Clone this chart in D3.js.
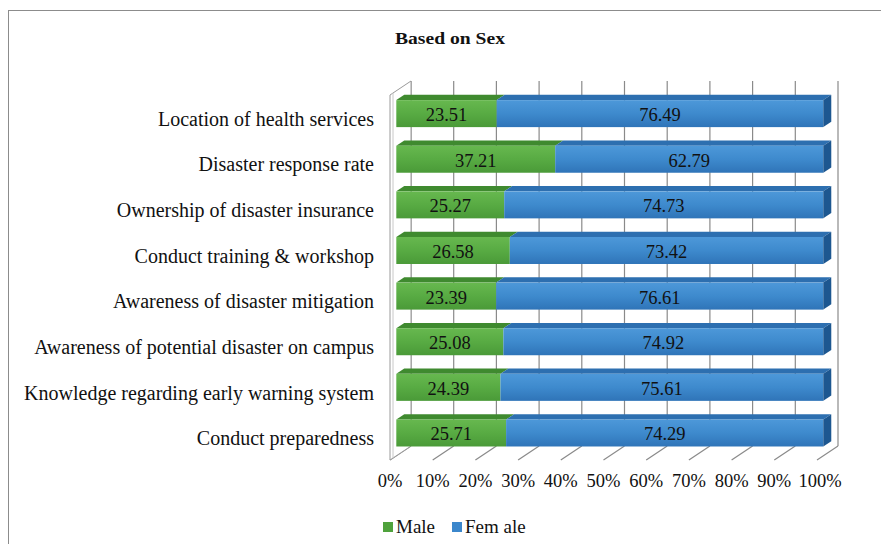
<!DOCTYPE html>
<head>
<meta charset="utf-8">
<style>
body { margin: 0; background: #fff; }
</style>
</head>
<body>
<svg width="881" height="544"></svg>
<script src="https://cdn.jsdelivr.net/npm/d3@7"></script>
<script>

var categories = ["Location of health services", "Disaster response rate", "Ownership of disaster insurance",
  "Conduct training & workshop", "Awareness of disaster mitigation", "Awareness of potential disaster on campus",
  "Knowledge regarding early warning system", "Conduct preparedness"];
var male = [23.51, 37.21, 25.27, 26.58, 23.39, 25.08, 24.39, 25.71];
var female = [76.49, 62.79, 74.73, 73.42, 76.61, 74.92, 75.61, 74.29];
var ticks = [0, 10, 20, 30, 40, 50, 60, 70, 80, 90, 100];
var seriesNames = ["Male", "Fem ale"];

var FONT = "'Liberation Serif', 'Times New Roman', Tinos, 'DejaVu Serif', serif";

var svg = d3.select("svg");

// outer border
svg.append("rect").attr("x", 8.5).attr("y", 10.5).attr("width", 900).attr("height", 600)
  .attr("fill", "#fff").attr("stroke", "#8c8c8c");

var x = d3.scaleLinear().domain([0, 100]).range([390, 817]);
var y = d3.scaleBand().domain(categories).range([95, 460]);
var DX = 21, DY = -14;          // full depth of the 3d box
var d0 = 0.3, d1 = 0.68;        // bar depth (front, back)
var barH = 27;

var defs = svg.append("defs");
function grad(id, stops) {
  var g = defs.append("linearGradient").attr("id", id).attr("x1", 0).attr("y1", 0).attr("x2", 0).attr("y2", 1);
  stops.forEach(function(s){ g.append("stop").attr("offset", s[0]).attr("stop-color", s[1]); });
}
grad("gFront", [[0, "#67b84f"], [0.5, "#58ab43"], [1, "#4a9a38"]]);
grad("bFront", [[0, "#4d98d9"], [0.5, "#3e8acd"], [1, "#2f74b8"]]);

// back wall gridlines
var back = svg.append("g");
back.selectAll("line.grid").data(ticks).enter().append("line")
  .attr("x1", function(d){ return x(d) + DX; }).attr("x2", function(d){ return x(d) + DX; })
  .attr("y1", y.range()[0] + DY).attr("y2", y.range()[1] + DY)
  .attr("stroke", "#8a8a8a").attr("stroke-width", 1.2);

// floor lines
back.selectAll("line.floor").data(ticks).enter().append("line")
  .attr("x1", function(d){ return x(d); }).attr("y1", y.range()[1])
  .attr("x2", function(d){ return x(d) + DX; }).attr("y2", y.range()[1] + DY)
  .attr("stroke", "#8a8a8a").attr("stroke-width", 1.2);

// left wall
var y0 = y.range()[0], y1 = y.range()[1];
back.append("path")
  .attr("d", "M" + x(0) + "," + y0 + "L" + (x(0) + DX) + "," + (y0 + DY) + "L" + (x(0) + DX) + "," + (y1 + DY) + "L" + x(0) + "," + y1 + "Z")
  .attr("fill", "#fff").attr("stroke", "#9a9a9a");
back.append("path")
  .attr("d", "M" + (x(0) + 3) + "," + (y0 - 2) + "L" + (x(0) + 3) + "," + (y1 - 2))
  .attr("stroke", "#c8c8c8");

// bars
var bars = svg.append("g");
categories.forEach(function(c, i) {
  var cy = y(c) + y.bandwidth() / 2;
  var fx = d0 * DX, fy = d0 * DY;
  var bx = d1 * DX, by = d1 * DY;
  var top = cy + fy - barH / 2, bot = top + barH;
  var segs = [[0, male[i], "url(#gFront)", "#3f8a2f", "#2f6a22"],
              [male[i], 100, "url(#bFront)", "#2d6fb0", "#1d5790"]];
  var g = bars.append("g");
  segs.forEach(function(s, k) {
    var xa = x(s[0]) + fx, xb = x(s[1]) + fx;
    // top face
    g.append("path")
      .attr("d", "M" + xa + "," + top + "L" + (xa + bx - fx) + "," + (top + by - fy) + "L" + (xb + bx - fx) + "," + (top + by - fy) + "L" + xb + "," + top + "Z")
      .attr("fill", s[3]);
    // front face
    g.append("rect").attr("x", xa).attr("y", top).attr("width", xb - xa).attr("height", barH)
      .attr("fill", s[2]);
    if (k === 1) {
      // right side face
      g.append("path")
        .attr("d", "M" + xb + "," + top + "L" + (xb + bx - fx) + "," + (top + by - fy) + "L" + (xb + bx - fx) + "," + (bot + by - fy) + "L" + xb + "," + bot + "Z")
        .attr("fill", s[4]);
    }
    g.append("text")
      .attr("x", (xa + xb) / 2).attr("y", top + barH / 2 + 7.5)
      .attr("text-anchor", "middle").attr("font-family", FONT).attr("font-size", 18.5).attr("fill", "#111")
      .text((k === 0 ? male[i] : female[i]).toFixed(2));
  });
});

// category labels
svg.append("g").selectAll("text").data(categories).enter().append("text")
  .attr("x", 374).attr("y", function(d){ return y(d) + y.bandwidth() / 2 + 8; })
  .attr("text-anchor", "end").attr("font-family", FONT).attr("font-size", 20).attr("fill", "#111")
  .text(String);

// tick labels
svg.append("g").selectAll("text").data(ticks).enter().append("text")
  .attr("x", function(d){ return x(d) + (d === 100 ? 3 : 0); }).attr("y", 487)
  .attr("text-anchor", "middle").attr("font-family", FONT).attr("font-size", 18.5).attr("fill", "#111")
  .text(function(d){ return d + "%"; });

// title
svg.append("text").attr("x", 395).attr("y", 44)
  .attr("font-family", FONT).attr("font-size", 16)
  .attr("font-weight", "bold").attr("fill", "#111")
  .attr("textLength", 110).attr("lengthAdjust", "spacingAndGlyphs")
  .text("Based on Sex");

// legend
var legend = svg.append("g");
var legX = [383, 452];
var legC = ["#4fa23c", "#3b87cc"];
seriesNames.forEach(function(n, i) {
  legend.append("rect").attr("x", legX[i]).attr("y", 522).attr("width", 10).attr("height", 10).attr("fill", legC[i]);
  legend.append("text").attr("x", legX[i] + 13).attr("y", 533)
    .attr("font-family", FONT).attr("font-size", 19).attr("fill", "#111").text(n);
});

</script>
</body>
